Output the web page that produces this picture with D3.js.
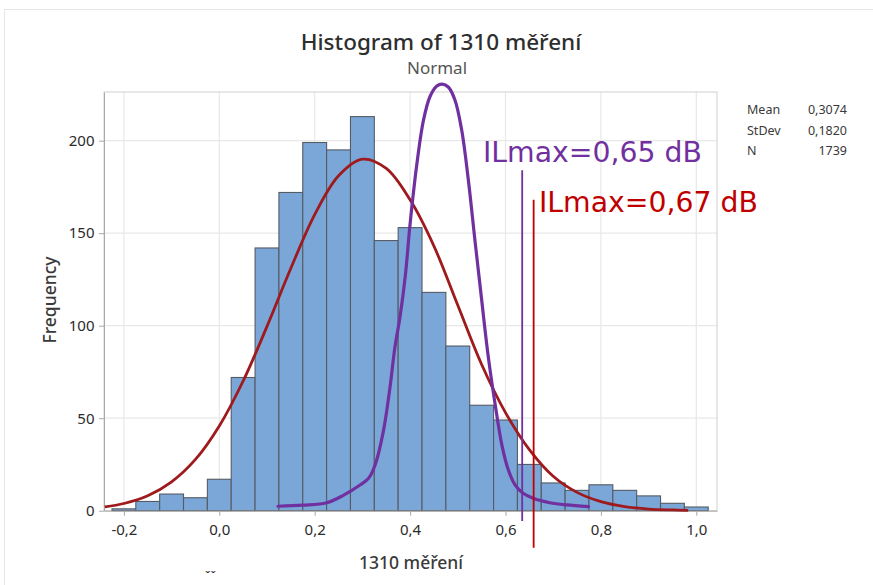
<!DOCTYPE html>
<html>
<head>
<meta charset="utf-8">
<script src="https://cdn.jsdelivr.net/npm/d3@7"></script>
<style>
  body { margin: 0; background: #fff; }
  svg { display: block; }
</style>
</head>
<body>
<svg id="chart" width="873" height="585"></svg>
<script>
// histogram bins (lower edge) and counts, bin width 0.05
var binStart = [-0.225, -0.175, -0.125, -0.075, -0.025, 0.025, 0.075, 0.125, 0.175, 0.225, 0.275, 0.325, 0.375,
                0.425, 0.475, 0.525, 0.575, 0.625, 0.675, 0.725, 0.775, 0.825, 0.875, 0.925, 0.975];
var counts = [1, 5, 9, 7, 17, 72, 142, 172, 199, 195, 213, 146, 153,
              118, 89, 57, 49, 25, 15, 11, 14, 11, 8, 4, 2];
var binWidth = 0.05;

// fitted normal curve (red)
var normalX = [-0.24, -0.2, -0.15, -0.1, -0.05, 0, 0.05, 0.1, 0.15, 0.2, 0.25, 0.3, 0.35, 0.4, 0.45, 0.5,
               0.55, 0.6, 0.65, 0.7, 0.75, 0.8, 0.85, 0.9, 0.95, 0.983];
var normalY = [2.1, 3.9, 8.1, 15.6, 27.7, 45.8, 70.1, 99.6, 131, 160, 181, 190, 185, 168, 143, 111,
               79, 53, 33, 18.6, 9.9, 4.9, 2.2, 0.9, 0.4, 0.2];

// purple overlay curve
var purpleX = [0.123, 0.175, 0.225, 0.26, 0.295, 0.313, 0.327, 0.344, 0.358, 0.368, 0.379, 0.39, 0.4, 0.414,
               0.428, 0.442, 0.456, 0.4675, 0.48, 0.494, 0.508, 0.522, 0.536, 0.55, 0.564, 0.578, 0.592,
               0.606, 0.62, 0.637, 0.658, 0.693, 0.728, 0.774];
var purpleY = [2.4, 3.0, 4.3, 8.3, 13.9, 17.5, 25, 43, 67, 88, 105, 127, 155, 187,
               211, 224, 229.6, 230.6, 229, 222, 206, 179, 146, 114, 83, 58, 36,
               22, 14, 9.4, 6.7, 4.3, 3.1, 2.2];

// ILmax markers
var markerX = [0.635, 0.659];
var markerTop = [184, 168];
var markerBottom = [-5.5, -20];
var markerLabel = ["ILmax=0,65 dB", "ILmax=0,67 dB"];
var markerColor = ["#7030a0", "#c00000"];

var xTicks = [-0.2, 0, 0.2, 0.4, 0.6, 0.8, 1.0];
var yTicks = [0, 50, 100, 150, 200];

var statNames = ["Mean", "StDev", "N"];
var statValues = ["0,3074", "0,1820", "1739"];

var svg = d3.select("#chart");
var font = "'Noto Sans', 'Open Sans', sans-serif";

// outer frame
svg.append("rect").attr("x", 4.5).attr("y", 9.5).attr("width", 880).attr("height", 600)
    .attr("fill", "none").attr("stroke", "#e6e6e6");

var x = d3.scaleLinear().domain([-0.2417, 1.0434]).range([104, 717]);
var y = d3.scaleLinear().domain([0, 226.3]).range([510.7, 92]);

var fmt = function(d) { return d3.format(".1f")(d).replace(".", ",").replace("−", "-"); };

// gridlines
svg.append("g").selectAll("line").data(xTicks).enter().append("line")
    .attr("x1", function(d) { return x(d); }).attr("x2", function(d) { return x(d); })
    .attr("y1", y.range()[1]).attr("y2", y.range()[0])
    .attr("stroke", "#e8e8e8").attr("stroke-width", 1.2);
svg.append("g").selectAll("line").data(yTicks.slice(1)).enter().append("line")
    .attr("x1", x.range()[0]).attr("x2", x.range()[1])
    .attr("y1", function(d) { return y(d); }).attr("y2", function(d) { return y(d); })
    .attr("stroke", "#e8e8e8").attr("stroke-width", 1.2);

// plot border
svg.append("rect").attr("x", x.range()[0]).attr("y", y.range()[1])
    .attr("width", x.range()[1] - x.range()[0]).attr("height", y.range()[0] - y.range()[1])
    .attr("fill", "none").attr("stroke", "#cfcfcf");

// bars
svg.append("g").selectAll("rect").data(counts).enter().append("rect")
    .attr("x", function(d, i) { return x(binStart[i]); })
    .attr("y", function(d) { return y(d); })
    .attr("width", function(d, i) { return x(binStart[i] + binWidth) - x(binStart[i]); })
    .attr("height", function(d) { return y(0) - y(d); })
    .attr("fill", "#7ba7d8").attr("stroke", "#555b63").attr("stroke-width", 1.1);

// axes
var xAxis = svg.append("g").attr("transform", "translate(0," + y(0) + ")")
    .call(d3.axisBottom(x).tickValues(xTicks).tickFormat(fmt).tickSize(5).tickSizeOuter(0));
var yAxis = svg.append("g").attr("transform", "translate(" + x.range()[0] + ",0)")
    .call(d3.axisLeft(y).tickValues(yTicks).tickSize(5).tickSizeOuter(0));
[xAxis, yAxis].forEach(function(a) {
    a.select(".domain").attr("stroke", "#a8a8a8");
    a.selectAll(".tick line").attr("stroke", "#a8a8a8");
    a.selectAll("text").attr("font-family", font).attr("font-size", 15).attr("fill", "#2b2b2b");
});
xAxis.selectAll("text").attr("dy", "1.1em");
yAxis.selectAll("text").attr("dx", "-0.1em");

// red fitted curve
var line = d3.line().curve(d3.curveCatmullRom)
    .x(function(d) { return x(d[0]); }).y(function(d) { return y(d[1]); });
svg.append("path").datum(d3.zip(normalX, normalY)).attr("d", line)
    .attr("fill", "none").attr("stroke", "#9e1a1d").attr("stroke-width", 2.8);

// purple curve
svg.append("path").datum(d3.zip(purpleX, purpleY)).attr("d", line)
    .attr("fill", "none").attr("stroke", "#7030a0").attr("stroke-width", 3.2)
    .attr("stroke-linecap", "round");

// ILmax lines and labels
markerX.forEach(function(m, i) {
    svg.append("line").attr("x1", x(m)).attr("x2", x(m))
        .attr("y1", y(markerTop[i])).attr("y2", y(markerBottom[i]))
        .attr("stroke", markerColor[i]).attr("stroke-width", 1.8);
});
svg.append("text").attr("x", 483).attr("y", 162).text(markerLabel[0])
    .attr("font-family", "'DejaVu Sans', sans-serif").attr("font-size", 28.3).attr("fill", markerColor[0]);
svg.append("text").attr("x", 539).attr("y", 212).text(markerLabel[1])
    .attr("font-family", "'DejaVu Sans', sans-serif").attr("font-size", 28.3).attr("fill", markerColor[1]);

// titles
svg.append("text").attr("x", 441).attr("y", 50).attr("text-anchor", "middle")
    .attr("font-family", font).attr("font-size", 22.5).attr("font-weight", 500).attr("fill", "#2e2e2e")
    .text("Histogram of 1310 měření");
svg.append("text").attr("x", 437).attr("y", 74).attr("text-anchor", "middle")
    .attr("font-family", font).attr("font-size", 17).attr("fill", "#555")
    .text("Normal");
svg.append("text").attr("x", 411).attr("y", 569).attr("text-anchor", "middle")
    .attr("font-family", font).attr("font-size", 17.5).attr("font-weight", 500).attr("fill", "#3a3a3a")
    .text("1310 měření");
svg.append("text").attr("transform", "translate(56,300) rotate(-90)").attr("text-anchor", "middle")
    .attr("font-family", font).attr("font-size", 17.5).attr("font-weight", 500).attr("fill", "#3a3a3a")
    .text("Frequency");

// stats box
statNames.forEach(function(s, i) {
    svg.append("text").attr("x", 747).attr("y", 114 + i * 20.5).text(s)
        .attr("font-family", font).attr("font-size", 12.5).attr("fill", "#3a3a3a");
    svg.append("text").attr("x", 847).attr("y", 114 + i * 20.5).text(statValues[i])
        .attr("text-anchor", "end")
        .attr("font-family", font).attr("font-size", 12.5).attr("fill", "#3a3a3a");
});

// carons left over at the bottom edge
svg.append("text").attr("x", 205).attr("y", 581).text("ˇˇ")
    .attr("font-family", font).attr("font-size", 13).attr("fill", "#222");
</script>
</body>
</html>
